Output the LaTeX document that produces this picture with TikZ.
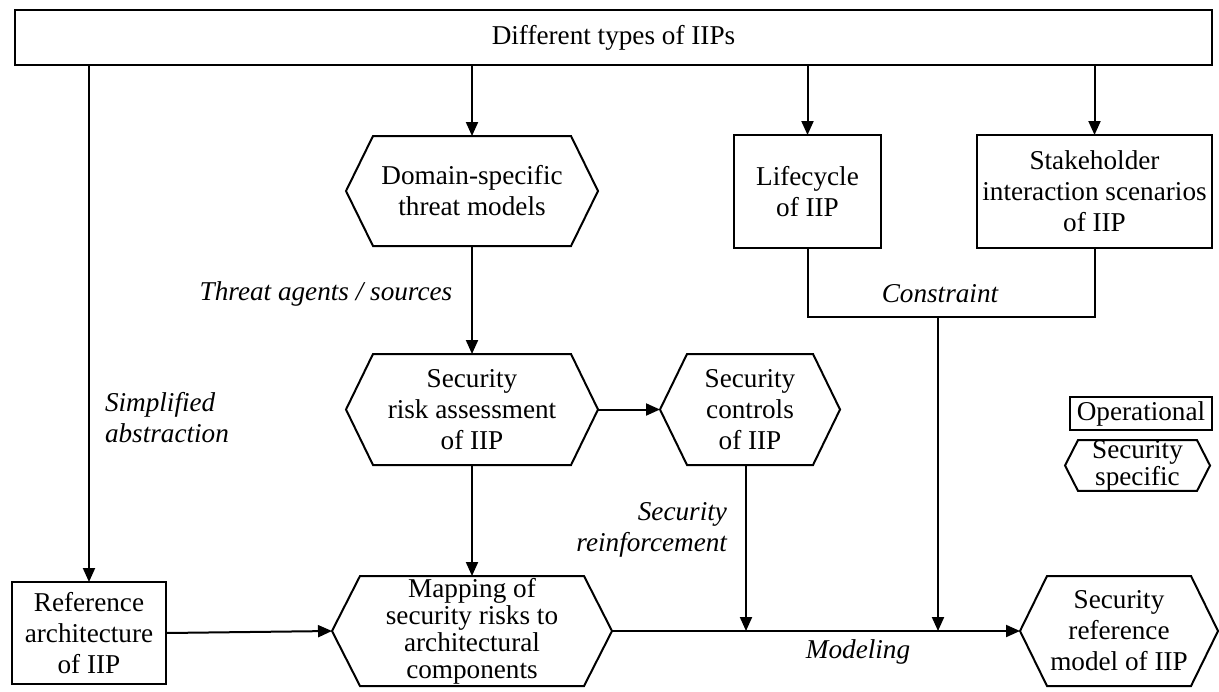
\documentclass[tikz,border=0pt]{standalone}
\usepackage{fontspec}
\setmainfont{Liberation Serif}
\usetikzlibrary{arrows.meta,calc}
\newcommand\hexpath[2]{\draw[line width=1pt] (#1.west) -- ([xshift=#2]#1.north west) -- ([xshift=-#2]#1.north east) -- (#1.east) -- ([xshift=-#2]#1.south east) -- ([xshift=#2]#1.south west) -- cycle;}
\begin{document}
\begin{tikzpicture}[x=0.5pt,y=-0.5pt,
  every node/.style={font=\fontsize{13.6}{15.5}\selectfont, align=center, inner sep=0pt, outer sep=0pt},
  box/.style={draw, line width=1pt},
  sz/.style 2 args={minimum width=#1pt, minimum height=#2pt},
  lab/.style={font=\fontsize{13.6}{15.5}\selectfont\itshape},
  conn/.style={line width=1pt, -{Triangle[length=7pt,width=6pt]}},
  plain/.style={line width=1pt},
]
\useasboundingbox (0,0) rectangle (1219,691);

% nodes
\node[box, sz={598.5}{27.5}] (top) at (613.5,37.5) {Different types of IIPs};
\node[sz={126}{55}] (dtm) at (472,191) {Domain-specific\\threat models};
\hexpath{dtm}{13.5pt}
\node[box, sz={73.5}{56.5}] (life) at (807.5,191.5) {Lifecycle\\of IIP};
\node[box, sz={117.5}{56.5}] (stake) at (1094.5,191.5) {Stakeholder\\interaction scenarios\\of IIP};
\node[sz={126}{55.5}] (sra) at (472,409.5) {Security\\risk assessment\\of IIP};
\hexpath{sra}{13.5pt}
\node[sz={90}{55.5}] (sc) at (750,409.5) {Security\\controls\\of IIP};
\hexpath{sc}{13.5pt}
\node[sz={140}{55}, font=\fontsize{13.6}{13.5}\selectfont] (map) at (472,631) {Mapping of\\security risks to\\architectural\\components};
\hexpath{map}{14pt}
\node[sz={99}{55}] (srm) at (1119,631) {Security\\reference\\model of IIP};
\hexpath{srm}{13.5pt}
\node[box, sz={77}{51}] (ref) at (89,633) {Reference\\architecture\\of IIP};

% legend
\node[box, sz={71}{16.5}] (op) at (1141,413.5) {Operational};
\node[sz={72.5}{22.5}, font=\fontsize{13.6}{10.5}\selectfont] (ss) at (1137.5,465.5) {Security\\specific};
\hexpath{ss}{6.5pt}

% labels
\node[lab] (lthreat) at (326,294) {Threat agents / sources};
\node[lab, anchor=west, align=left] (lsimp) at (105,418) {Simplified\\abstraction};
\node[lab, anchor=east, align=right] (lreinf) at (727,530) {Security\\reinforcement};
\node[lab] (lcons) at (940,294) {Constraint};
\node[lab] (lmod) at (858,652) {Modeling};

% connectors
\draw[conn] (ref.north |- top.south) -- (ref.north);
\draw[conn] (dtm.north |- top.south) -- (dtm.north);
\draw[conn] (life.north |- top.south) -- (life.north);
\draw[conn] (stake.north |- top.south) -- (stake.north);
\draw[conn] (dtm.south) -- (sra.north);
\draw[conn] (sra.east) -- (sc.west);
\draw[conn] (sra.south) -- (sra.south |- map.north);
\coordinate (cj) at (938,317);
\draw[plain] (life.south) -- (life.south |- cj) -- (stake.south |- cj) -- (stake.south);
\draw[conn] (cj) -- (cj |- map.east);
\draw[conn] ([xshift=-2pt]sc.south) -- ([xshift=-2pt]sc.south |- map.east);
\draw[conn] (ref.east) -- (map.west);
\draw[conn] (map.east) -- (srm.west);
\end{tikzpicture}
\end{document}
